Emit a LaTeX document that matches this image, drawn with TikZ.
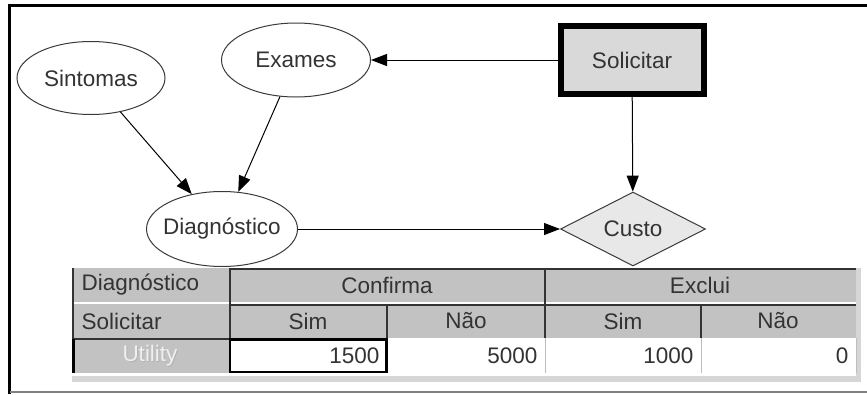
\documentclass[tikz,border=0pt]{standalone}
\usepackage{fontspec}
\setmainfont{Liberation Sans}
\usetikzlibrary{shapes.geometric,arrows.meta}

\definecolor{inkgray}{HTML}{333333}
\definecolor{edgegray}{HTML}{3A3A3A}
\definecolor{cellgray}{HTML}{C2C2C2}
\definecolor{boxgray}{HTML}{D9D9D9}
\definecolor{diamgray}{HTML}{E8E8E8}
\definecolor{palegray}{HTML}{D6D6D6}
\definecolor{sepgray}{HTML}{BDBDBD}

\tikzset{
  lbl/.style={font=\fontsize{22.5}{26}\selectfont, text=inkgray},
  % the negative x padding lets the minimum size set the ellipse, not the label width
  chance/.style={ellipse, draw=edgegray, line width=1pt, fill=white, lbl,
                 inner xsep=-14pt, inner ysep=0pt},
  decision/.style={rectangle, draw=black, line width=6pt, fill=boxgray, lbl, inner sep=0pt,
                   minimum width=143pt, minimum height=68pt},
  utilnode/.style={diamond, draw=edgegray, line width=1pt, fill=diamgray, lbl, inner sep=0pt,
                   aspect=1.96, minimum width=145pt, minimum height=74pt},
  link/.style={draw=black, line width=1pt, -{Triangle[length=16pt,width=12pt]}},
  darkrule/.style={draw=inkgray, line width=2pt},
  celltext/.style={lbl}
}

\begin{document}
\begin{tikzpicture}[x=1pt,y=-1pt]
  \useasboundingbox (0,0) rectangle (867,394);
  \fill[white] (0,0) rectangle (867,394);

  % outer frame
  \draw[black, line width=3pt] (9.5,394) -- (9.5,5) -- (867,5);
  \draw[gray, line width=1.5pt] (9.5,392) -- (867,392);

  % influence diagram nodes
  \node[chance, minimum width=148pt, minimum height=73pt] (sint) at (91,78) {Sintomas};
  \node[chance, minimum width=149pt, minimum height=74pt] (exam) at (296,60) {Exames};
  \node[chance, minimum width=151pt, minimum height=75pt] (diag) at (222,229) {Diagnóstico};
  \node[decision] (solic) at (632,60) {Solicitar};
  \node[utilnode] (custo) at (633,229) {Custo};

  % arcs
  \draw[link] (solic) -- (exam);
  \draw[link] (solic) -- (custo);
  \draw[link] (sint) -- (diag);
  \draw[link] (exam) -- (diag);
  \draw[link] (diag) -- (custo);

  % ---- utility table ----
  % header column and header cells
  \fill[cellgray] (72,268) rectangle (856,302);
  \fill[cellgray] (72,304) rectangle (856,338);
  \fill[cellgray] (72,338) rectangle (229,373);
  % value cells
  \fill[white] (229,338) rectangle (856,373);
  % strip below the table and at its right edge
  \fill[palegray] (72,376) rectangle (858,382);
  \fill[palegray] (856,268) rectangle (861,382);

  % borders of the column headers
  \draw[darkrule] (229,269) -- (856,269);
  \draw[darkrule] (229,305) -- (856,305);
  \draw[darkrule] (230,268) -- (230,338);
  \draw[darkrule] (545,268) -- (545,338);
  \draw[darkrule] (387,304) -- (387,338);
  \draw[darkrule] (701,304) -- (701,338);
  % left edge and row rule of the header column
  \draw[darkrule] (73,268) -- (73,373);
  \draw[darkrule] (72,339) -- (229,339);
  \draw[black, line width=3pt] (73.5,339) -- (73.5,373);
  % value cell separators
  \draw[sepgray, line width=1pt] (545,338) -- (545,373);
  \draw[sepgray, line width=1pt] (701,338) -- (701,373);
  \draw[sepgray, line width=1pt] (856,338) -- (856,373);
  % selected cell
  \draw[black, line width=2.5pt] (230,339.5) rectangle (386.5,372);

  % table texts
  \node[celltext, anchor=west] (tdiag) at (78,285) {Diagnóstico};
  \node[celltext, anchor=west] (tsol) at (78,321) {Solicitar};
  \node[celltext, text=black!30] (tutilshadow) at (151,357) {Utility};
  \node[celltext, text=black!6] (tutil) at (150,356) {Utility};
  \node[celltext] (tconf) at (387,285) {Confirma};
  \node[celltext] (texcl) at (700,285) {Exclui};
  \node[celltext] (tsim1) at (308,321) {Sim};
  \node[celltext] (tnao1) at (466,321) {Não};
  \node[celltext] (tsim2) at (623,321) {Sim};
  \node[celltext] (tnao2) at (778,321) {Não};
  \node[celltext, anchor=east] (v1) at (383,356) {1500};
  \node[celltext, anchor=east] (v2) at (541,356) {5000};
  \node[celltext, anchor=east] (v3) at (697,356) {1000};
  \node[celltext, anchor=east] (v4) at (852,356) {0};
\end{tikzpicture}
\end{document}
